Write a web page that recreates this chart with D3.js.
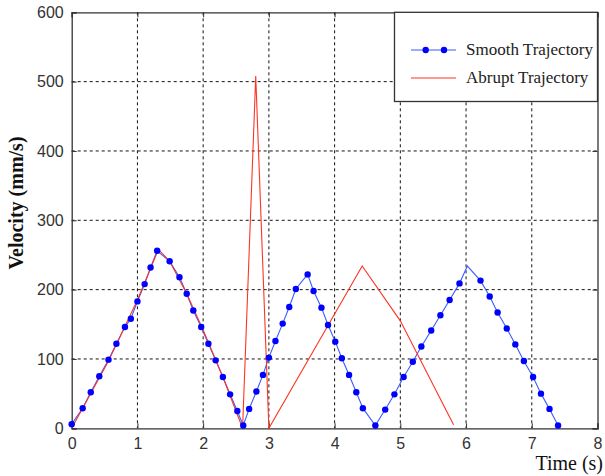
<!DOCTYPE html>
<html><head><meta charset="utf-8">
<script src="https://cdn.jsdelivr.net/npm/d3@7"></script>
<style>body{margin:0;background:#fff}svg{display:block}</style>
</head><body>
<svg id="c" width="605" height="476"></svg>
<script>
// Data
const xTicks = [0,1,2,3,4,5,6,7,8];
const yTicks = [0,100,200,300,400,500,600];
const smoothTime = [0,0.167,0.29,0.42,0.56,0.68,0.81,0.90,1.0,1.11,1.20,1.30,1.49,1.64,1.75,1.85,1.97,2.08,2.19,2.30,2.41,2.52,2.61,2.70,2.81,2.91,3.0,3.10,3.21,3.31,3.41,3.59,3.68,3.80,3.90,4.01,4.11,4.22,4.33,4.43,4.62,4.77,4.91,5.05,5.19,5.32,5.47,5.61,5.75,5.90,6.22,6.36,6.48,6.62,6.75,6.88,7.02,7.14,7.27,7.40];
const smoothVel  = [6,29,52,75,99,122,146,158,183,208,232,256,241,218,194,170,146,122,98,74,49,25,4,28,53,77,102,126,151,175,201,222,198,174,149,125,101,77,52,29,4,27,49,74,96,118,141,163,185,209,213,190,167,144,121,97,74,50,28,4];
// line-only vertices of the smooth trajectory (no marker)
const smoothPeakTime = [6.02];
const smoothPeakVel  = [234];
const abruptTime = [0,0.56,1.0,1.32,1.49,1.75,2.0,2.30,2.6,2.8,3.0,4.42,5.0,5.81];
const abruptVel  = [0,97,185,258,241,194,142,74,0,508,0,234,155,5];
const seriesNames = ["Smooth Trajectory","Abrupt Trajectory"];

const svg = d3.select("#c");
const L = 71.7, R = 597.5, T = 12.3, B = 428.3;
const x = d3.scaleLinear().domain([0,8]).range([L,R]);
const y = d3.scaleLinear().domain([0,600]).range([B,T]);
const axisCol = "#333";

// grid
const g = svg.append("g");
g.selectAll(".vg").data(xTicks.slice(1,-1)).join("line")
  .attr("x1",d=>x(d)).attr("x2",d=>x(d)).attr("y1",T).attr("y2",B)
  .attr("stroke","#111").attr("stroke-width",1).attr("stroke-dasharray","3,3");
g.selectAll(".hg").data(yTicks.slice(1,-1)).join("line")
  .attr("x1",L).attr("x2",R).attr("y1",d=>y(d)).attr("y2",d=>y(d))
  .attr("stroke","#111").attr("stroke-width",1).attr("stroke-dasharray","3,3");

// axes with inward ticks
const ax = svg.append("g");
ax.append("g").attr("transform",`translate(0,${B})`)
  .call(d3.axisBottom(x).tickValues(xTicks).tickSize(-5).tickPadding(9).tickFormat(d3.format("d")));
ax.append("g").attr("transform",`translate(${L},0)`)
  .call(d3.axisLeft(y).tickValues(yTicks).tickSize(-5).tickPadding(8).tickFormat(d3.format("d")));
ax.append("g").attr("transform",`translate(0,${T})`)
  .call(d3.axisTop(x).tickValues(xTicks).tickSize(-5).tickFormat(""));
ax.append("g").attr("transform",`translate(${R},0)`)
  .call(d3.axisRight(y).tickValues(yTicks).tickSize(-5).tickFormat(""));
ax.selectAll(".domain").attr("stroke",axisCol).attr("stroke-width",1.3);
ax.selectAll(".tick line").attr("stroke",axisCol);
ax.selectAll(".tick text").attr("font-family","'Liberation Sans', Arial, sans-serif")
  .attr("font-size",16).attr("fill","#333");

// series
const smoothPts = smoothTime.map((t,i)=>[t,smoothVel[i]]);
const smoothLinePts = smoothPts.concat(smoothPeakTime.map((t,i)=>[t,smoothPeakVel[i]]))
  .sort((a,b)=>a[0]-b[0]);
const abruptPts = abruptTime.map((t,i)=>[t,abruptVel[i]]);
const line = d3.line().x(d=>x(d[0])).y(d=>y(d[1]));

svg.append("path").datum(smoothLinePts).attr("d",line)
  .attr("fill","none").attr("stroke","#3a5cff").attr("stroke-width",1.1);
svg.append("path").datum(abruptPts).attr("d",line)
  .attr("fill","none").attr("stroke","#ff3322").attr("stroke-width",1.1);
svg.append("g").selectAll("circle").data(smoothPts).join("circle")
  .attr("cx",d=>x(d[0])).attr("cy",d=>y(d[1])).attr("r",3.2)
  .attr("fill","#0000ff");

// legend
const lg = svg.append("g");
lg.append("rect").attr("x",394.5).attr("y",T).attr("width",R-394.5).attr("height",101.5-T)
  .attr("fill","#fff").attr("stroke",axisCol).attr("stroke-width",1.3);
const ly = [50,78];
lg.append("line").attr("x1",411).attr("x2",456).attr("y1",ly[0]).attr("y2",ly[0])
  .attr("stroke","#3a5cff").attr("stroke-width",1.1);
lg.selectAll(".lm").data([425.7,444]).join("circle")
  .attr("cx",d=>d).attr("cy",ly[0]).attr("r",3.2).attr("fill","#0000ff");
lg.append("line").attr("x1",411).attr("x2",456).attr("y1",ly[1]).attr("y2",ly[1])
  .attr("stroke","#ff3322").attr("stroke-width",1.1);
lg.selectAll(".lt").data(seriesNames).join("text")
  .attr("x",466).attr("y",(d,i)=>ly[i]+5)
  .attr("font-family","'Liberation Serif','Times New Roman',serif").attr("font-size",17)
  .attr("fill","#222").text(d=>d);

// axis titles
svg.append("text").attr("x",603).attr("y",470).attr("text-anchor","end")
  .attr("font-family","'Liberation Serif','Times New Roman',serif").attr("font-size",20)
  .attr("fill","#111").text("Time (s)");
svg.append("text").attr("transform","translate(23,203) rotate(-90)").attr("text-anchor","middle")
  .attr("font-family","'Liberation Serif','Times New Roman',serif").attr("font-size",20)
  .attr("font-weight","bold").attr("fill","#111").text("Velocity (mm/s)");
</script>
</body></html>
